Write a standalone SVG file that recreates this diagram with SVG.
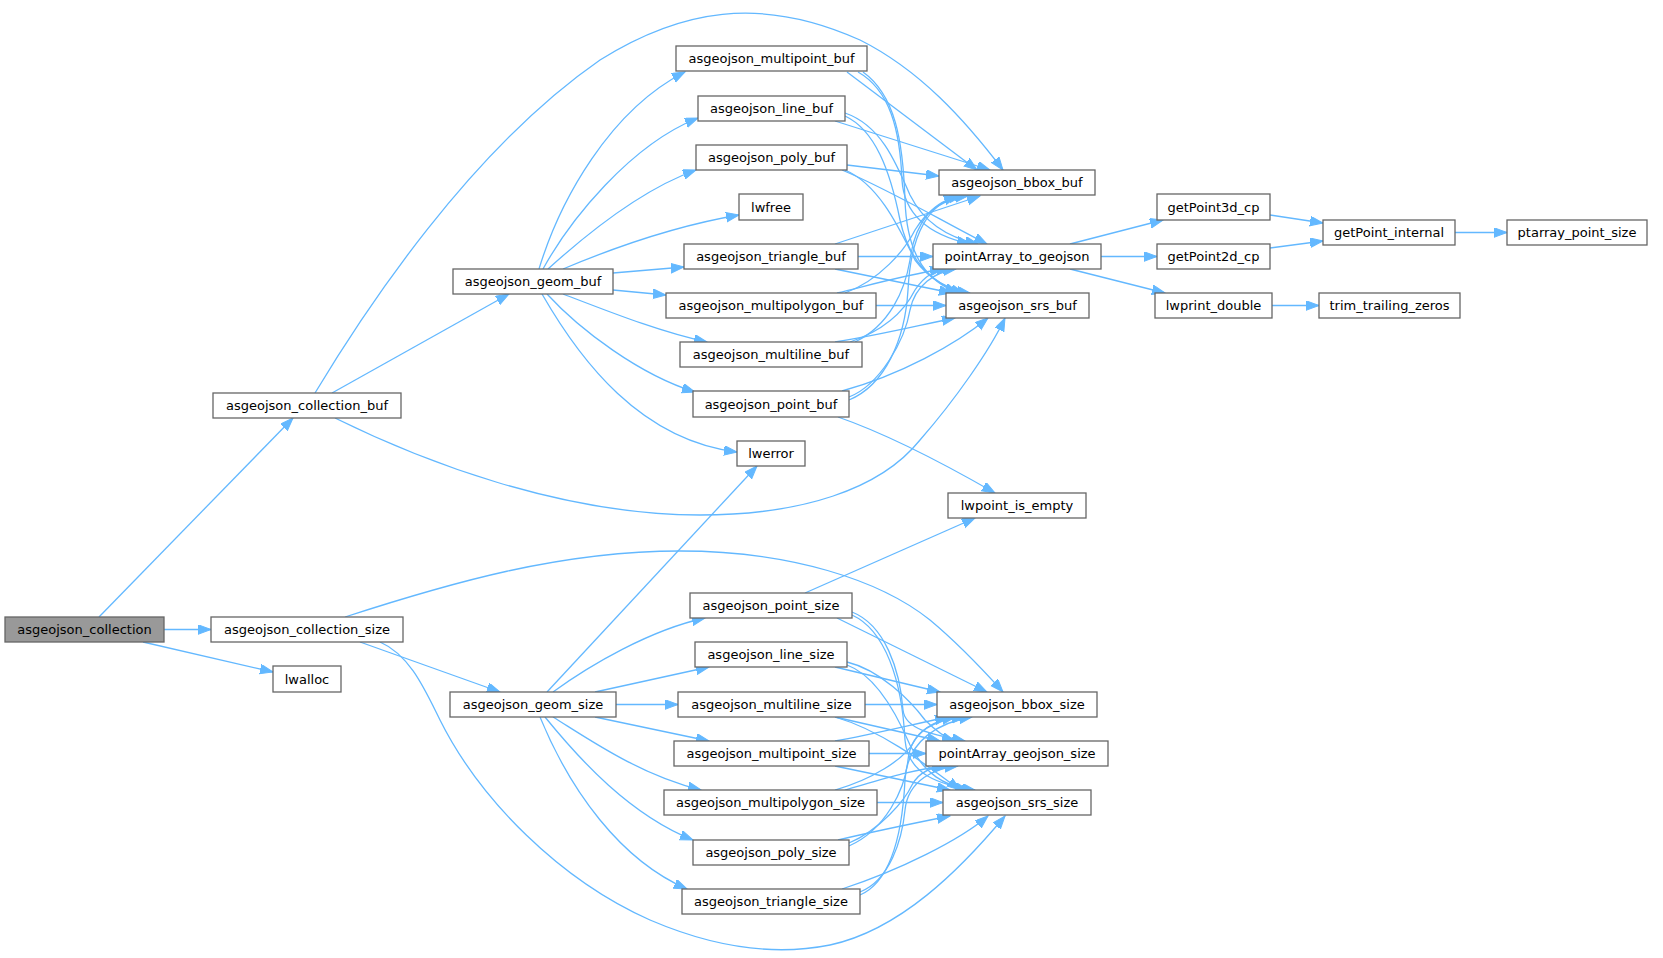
<svg xmlns="http://www.w3.org/2000/svg" width="1663" height="958" viewBox="0 0 1663 958">
<style>
.n rect{fill:#fff;stroke:#666;stroke-width:1.3}
.n text{font-family:"DejaVu Sans",sans-serif;font-size:13px;text-anchor:middle;fill:#000}
.root rect{fill:#999}
#edges path{fill:none;stroke:#63b8ff;stroke-width:1.3;marker-end:url(#ah)}
</style>
<defs>
<marker id="ah" markerUnits="userSpaceOnUse" markerWidth="14" markerHeight="11" refX="13" refY="4.8" orient="auto">
<path d="M0,0 L13,4.8 L0,9.6 z" fill="#63b8ff" stroke="#63b8ff" stroke-width="1"/>
</marker>
</defs>
<rect width="1663" height="958" fill="#fff"/>
<g id="edges">
<path d="M99,617 L293,418"/>
<path d="M164,629.5 L211,629.5"/>
<path d="M143,642 L273,672"/>
<path d="M332,393 L509,294"/>
<path d="M315,393 C365,310 470,150 600,60 C680,10 760,-5 860,40 C920,70 965,120 1003,170"/>
<path d="M335,418 C420,460 560,515 700,515 C800,515 880,490 920,440 C955,400 990,350 1005,318"/>
<path d="M360,642 L500,692"/>
<path d="M345,617 C450,583 560,551 680,551 C790,551 880,580 930,620 C960,645 985,672 1003,692"/>
<path d="M380,642 C410,655 425,690 440,720 C480,800 560,880 650,920 C720,950 780,955 830,945 C900,930 960,870 1005,816"/>
<path d="M539,269 C560,200 610,110 685,72"/>
<path d="M543,269 C570,220 630,145 698,118"/>
<path d="M548,269 C580,240 640,190 696,170"/>
<path d="M563,269 C620,245 680,225 739,215"/>
<path d="M613,273 L684,267"/>
<path d="M613,290 L666,295"/>
<path d="M563,294 C610,312 660,332 707,342"/>
<path d="M547,294 C580,330 640,375 695,392"/>
<path d="M542,294 C580,360 640,440 737,452"/>
<path d="M547,692 L757,466"/>
<path d="M553,692 C590,665 650,630 705,618"/>
<path d="M595,692 L709,667"/>
<path d="M616,704.5 L678,704.5"/>
<path d="M595,717 L709,741"/>
<path d="M553,717 C590,740 640,775 701,790"/>
<path d="M545,717 C580,760 630,815 693,840"/>
<path d="M540,717 C570,790 620,860 687,889"/>
<path d="M847,72 L977,170"/>
<path d="M858,72 C890,90 900,130 902,180 C904,215 930,235 970,244"/>
<path d="M863,72 C895,95 903,140 905,200 C907,260 930,282 958,293"/>
<path d="M835,121 L990,170"/>
<path d="M845,113 C880,125 895,160 910,195 C925,225 950,238 978,244"/>
<path d="M845,116 C875,130 890,170 900,220 C910,265 935,285 964,293"/>
<path d="M847,165 L939,176"/>
<path d="M842,170 C890,190 940,220 987,244"/>
<path d="M845,170 C880,185 900,230 915,260 C930,280 950,290 970,293"/>
<path d="M835,244 L980,196"/>
<path d="M858,256.5 L933,256.5"/>
<path d="M835,269 L952,293"/>
<path d="M837,293 C870,285 905,275 943,269"/>
<path d="M845,293 C880,280 905,250 915,230 C930,205 950,198 968,196"/>
<path d="M876,305.5 L946,305.5"/>
<path d="M835,342 C880,335 920,325 955,318"/>
<path d="M850,342 C885,330 905,310 915,290 C925,275 935,270 950,269"/>
<path d="M855,342 C890,325 905,290 910,260 C915,220 935,200 962,196"/>
<path d="M842,391 C900,375 955,345 988,318"/>
<path d="M849,397 C880,385 905,340 910,310 C915,285 935,272 956,269"/>
<path d="M849,400 C885,385 905,340 908,290 C911,230 930,205 957,196"/>
<path d="M838,417 C890,435 955,470 995,493"/>
<path d="M805,593 L975,518"/>
<path d="M837,618 L987,692"/>
<path d="M852,612 C885,625 900,670 903,710 C905,730 935,735 965,741"/>
<path d="M852,615 C885,630 902,680 905,740 C908,775 940,785 975,790"/>
<path d="M835,667 L940,692"/>
<path d="M847,662 C880,670 910,700 925,720 C935,730 945,738 955,741"/>
<path d="M847,665 C875,675 895,710 910,745 C925,775 945,785 968,790"/>
<path d="M865,704.5 L937,704.5"/>
<path d="M835,717 L940,741"/>
<path d="M835,717 C880,730 920,760 960,790"/>
<path d="M869,753.5 L926,753.5"/>
<path d="M835,741 C870,735 910,725 948,717"/>
<path d="M835,766 L950,790"/>
<path d="M877,802.5 L943,802.5"/>
<path d="M835,790 C870,780 905,760 915,740 C925,725 940,720 955,717"/>
<path d="M845,790 C880,780 910,770 945,766"/>
<path d="M838,840 C880,830 920,822 950,816"/>
<path d="M849,843 C880,830 905,800 912,785 C920,770 935,766 950,766"/>
<path d="M849,846 C885,830 905,790 908,760 C911,730 935,720 965,717"/>
<path d="M842,889 C900,870 960,840 988,816"/>
<path d="M860,892 C890,880 902,840 905,810 C908,780 935,768 958,766"/>
<path d="M860,895 C895,880 903,820 905,780 C907,740 940,722 972,717"/>
<path d="M1070,244 L1163,220"/>
<path d="M1101,256.5 L1157,256.5"/>
<path d="M1070,269 L1165,293"/>
<path d="M1270,215 L1323,223"/>
<path d="M1270,248 L1323,241"/>
<path d="M1455,232.5 L1507,232.5"/>
<path d="M1272,305.5 L1319,305.5"/>
</g>
<g id="asgeojson_collection" class="n root"><rect x="5" y="617" width="159" height="25"/><text x="84.5" y="634">asgeojson_collection</text></g>
<g id="asgeojson_collection_buf" class="n"><rect x="213" y="393" width="188" height="25"/><text x="307" y="410">asgeojson_collection_buf</text></g>
<g id="asgeojson_collection_size" class="n"><rect x="211" y="617" width="192" height="25"/><text x="307" y="634">asgeojson_collection_size</text></g>
<g id="lwalloc" class="n"><rect x="273" y="666" width="68" height="26"/><text x="307" y="683.5">lwalloc</text></g>
<g id="asgeojson_geom_buf" class="n"><rect x="453" y="269" width="160" height="25"/><text x="533" y="286">asgeojson_geom_buf</text></g>
<g id="asgeojson_geom_size" class="n"><rect x="450" y="692" width="166" height="25"/><text x="533" y="709">asgeojson_geom_size</text></g>
<g id="asgeojson_multipoint_buf" class="n"><rect x="676" y="46" width="191" height="25"/><text x="771.5" y="63">asgeojson_multipoint_buf</text></g>
<g id="asgeojson_line_buf" class="n"><rect x="698" y="96" width="147" height="25"/><text x="771.5" y="113">asgeojson_line_buf</text></g>
<g id="asgeojson_poly_buf" class="n"><rect x="696" y="145" width="151" height="25"/><text x="771.5" y="162">asgeojson_poly_buf</text></g>
<g id="lwfree" class="n"><rect x="739" y="194" width="64" height="26"/><text x="771" y="211.5">lwfree</text></g>
<g id="asgeojson_triangle_buf" class="n"><rect x="684" y="244" width="174" height="25"/><text x="771" y="261">asgeojson_triangle_buf</text></g>
<g id="asgeojson_multipolygon_buf" class="n"><rect x="666" y="293" width="210" height="25"/><text x="771" y="310">asgeojson_multipolygon_buf</text></g>
<g id="asgeojson_multiline_buf" class="n"><rect x="680" y="342" width="182" height="25"/><text x="771" y="359">asgeojson_multiline_buf</text></g>
<g id="asgeojson_point_buf" class="n"><rect x="693" y="391" width="156" height="26"/><text x="771" y="408.5">asgeojson_point_buf</text></g>
<g id="lwerror" class="n"><rect x="737" y="441" width="68" height="25"/><text x="771" y="458">lwerror</text></g>
<g id="asgeojson_point_size" class="n"><rect x="690" y="593" width="162" height="25"/><text x="771" y="610">asgeojson_point_size</text></g>
<g id="asgeojson_line_size" class="n"><rect x="695" y="642" width="152" height="25"/><text x="771" y="659">asgeojson_line_size</text></g>
<g id="asgeojson_multiline_size" class="n"><rect x="678" y="692" width="187" height="25"/><text x="771.5" y="709">asgeojson_multiline_size</text></g>
<g id="asgeojson_multipoint_size" class="n"><rect x="674" y="741" width="195" height="25"/><text x="771.5" y="758">asgeojson_multipoint_size</text></g>
<g id="asgeojson_multipolygon_size" class="n"><rect x="664" y="790" width="213" height="25"/><text x="770.5" y="807">asgeojson_multipolygon_size</text></g>
<g id="asgeojson_poly_size" class="n"><rect x="693" y="840" width="156" height="25"/><text x="771" y="857">asgeojson_poly_size</text></g>
<g id="asgeojson_triangle_size" class="n"><rect x="682" y="889" width="178" height="25"/><text x="771" y="906">asgeojson_triangle_size</text></g>
<g id="asgeojson_bbox_buf" class="n"><rect x="939" y="170" width="156" height="25"/><text x="1017" y="187">asgeojson_bbox_buf</text></g>
<g id="pointArray_to_geojson" class="n"><rect x="933" y="244" width="168" height="25"/><text x="1017" y="261">pointArray_to_geojson</text></g>
<g id="asgeojson_srs_buf" class="n"><rect x="946" y="293" width="143" height="25"/><text x="1017.5" y="310">asgeojson_srs_buf</text></g>
<g id="lwpoint_is_empty" class="n"><rect x="948" y="493" width="138" height="25"/><text x="1017" y="510">lwpoint_is_empty</text></g>
<g id="asgeojson_bbox_size" class="n"><rect x="937" y="692" width="160" height="25"/><text x="1017" y="709">asgeojson_bbox_size</text></g>
<g id="pointArray_geojson_size" class="n"><rect x="926" y="741" width="182" height="25"/><text x="1017" y="758">pointArray_geojson_size</text></g>
<g id="asgeojson_srs_size" class="n"><rect x="943" y="790" width="148" height="25"/><text x="1017" y="807">asgeojson_srs_size</text></g>
<g id="getPoint3d_cp" class="n"><rect x="1157" y="194" width="113" height="26"/><text x="1213.5" y="211.5">getPoint3d_cp</text></g>
<g id="getPoint2d_cp" class="n"><rect x="1157" y="244" width="113" height="25"/><text x="1213.5" y="261">getPoint2d_cp</text></g>
<g id="lwprint_double" class="n"><rect x="1155" y="293" width="117" height="25"/><text x="1213.5" y="310">lwprint_double</text></g>
<g id="getPoint_internal" class="n"><rect x="1323" y="220" width="132" height="25"/><text x="1389" y="237">getPoint_internal</text></g>
<g id="ptarray_point_size" class="n"><rect x="1507" y="220" width="140" height="25"/><text x="1577" y="237">ptarray_point_size</text></g>
<g id="trim_trailing_zeros" class="n"><rect x="1319" y="293" width="141" height="25"/><text x="1389.5" y="310">trim_trailing_zeros</text></g>
</svg>
